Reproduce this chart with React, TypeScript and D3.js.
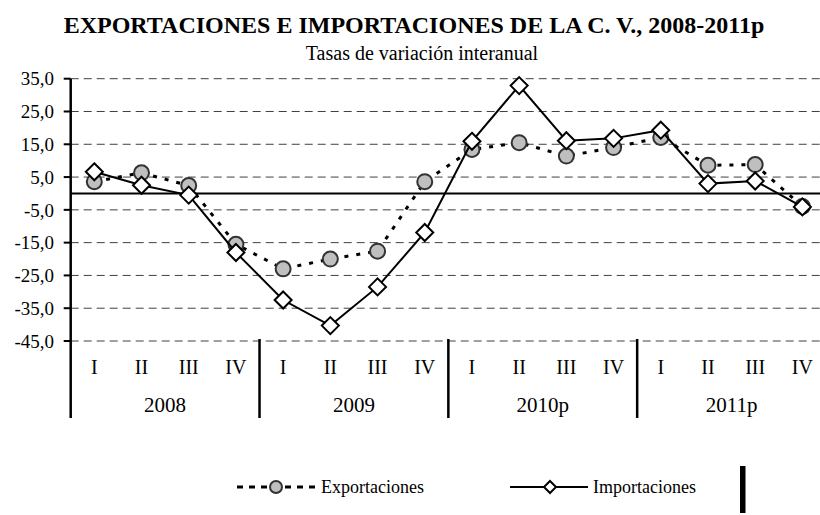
import * as d3 from "d3";
import React from "react";

const quarters = ["I", "II", "III", "IV"];
const years = ["2008", "2009", "2010p", "2011p"];
const exportaciones = [3.6, 6.3, 2.4, -15.5, -23.0, -20.0, -17.6, 3.6, 13.4, 15.5, 11.4, 14.0, 17.1, 8.6, 8.8, -4.0];
const importaciones = [6.6, 2.5, -0.5, -18.0, -32.5, -40.3, -28.5, -11.9, 15.9, 32.9, 16.1, 16.8, 19.3, 3.0, 3.8, -4.1];
const yTicks = [35, 25, 15, 5, -5, -15, -25, -35, -45];

const W = 820;
const H = 515;
const left = 70.7;
const right = 826;
const top = 78.7;
const bottom = 341;
const font = "Liberation Serif";

const fmt = (v: number) => v.toFixed(1).replace(".", ",");

export default function App() {
  const keys = years.flatMap((y) => quarters.map((q) => `${y}-${q}`));
  const x = d3.scaleBand<string>().domain(keys).range([left, right]);
  const y = d3.scaleLinear().domain([-45, 35]).range([bottom, top]);
  const cx = (i: number) => (x(keys[i]) as number) + x.bandwidth() / 2;

  const line = d3
    .line<number>()
    .x((d, i) => cx(i))
    .y((d) => y(d));

  const diamond = (px: number, py: number, r: number) =>
    `M${px},${py - r}L${px + r},${py}L${px},${py + r}L${px - r},${py}Z`;

  const yearW = x.bandwidth() * 4;

  return (
    <div style={{ position: "absolute", left: 0, top: 0 }}>
      <svg width={W} height={H} style={{ display: "block", background: "#fff", fontFamily: font }}>
        <text x={414} y={33} textAnchor="middle" fontWeight="bold" fontSize={24}>
          EXPORTACIONES E IMPORTACIONES DE LA C. V., 2008-2011p
        </text>
        <text x={422} y={60} textAnchor="middle" fontSize={20}>
          Tasas de variación interanual
        </text>

        {yTicks.map((t) => (
          <g key={t}>
            <line x1={left} x2={right} y1={y(t)} y2={y(t)} stroke="#404040" strokeWidth={1} strokeDasharray="8,5" />
            <line x1={left - 7} x2={left} y1={y(t)} y2={y(t)} stroke="#000" strokeWidth={2} />
            <text x={54} y={y(t)} dy="0.35em" textAnchor="end" fontSize={19}>
              {fmt(t)}
            </text>
          </g>
        ))}

        <line x1={left} x2={right} y1={y(0)} y2={y(0)} stroke="#000" strokeWidth={2} />
        <line x1={left} x2={left} y1={top} y2={418} stroke="#000" strokeWidth={2.5} />

        {years.map((yr, j) => {
          const x0 = x(keys[j * 4]) as number;
          return (
            <g key={yr}>
              {j > 0 && <line x1={x0} x2={x0} y1={bottom - 2} y2={418} stroke="#000" strokeWidth={2.5} />}
              <text x={x0 + yearW / 2} y={405} dy="0.35em" textAnchor="middle" fontSize={21}>
                {yr}
              </text>
            </g>
          );
        })}
        {keys.map((k, i) => (
          <text key={k} x={cx(i)} y={367} dy="0.35em" textAnchor="middle" fontSize={20}>
            {quarters[i % 4]}
          </text>
        ))}

        <path d={line(exportaciones) as string} fill="none" stroke="#000" strokeWidth={3} strokeDasharray="4,8" />
        {exportaciones.map((v, i) => (
          <circle key={i} cx={cx(i)} cy={y(v)} r={7.5} fill="#bfbfbf" stroke="#333" strokeWidth={2} />
        ))}
        <path d={line(importaciones) as string} fill="none" stroke="#000" strokeWidth={2} />
        {importaciones.map((v, i) => (
          <path key={i} d={diamond(cx(i), y(v), 8.5)} fill="#fff" stroke="#000" strokeWidth={2} />
        ))}

        <g>
          <line x1={237} x2={316} y1={487} y2={487} stroke="#000" strokeWidth={3} strokeDasharray="6,6" />
          <circle cx={276} cy={487} r={6} fill="#bfbfbf" stroke="#333" strokeWidth={2} />
          <text x={321} y={487} dy="0.35em" fontSize={18}>Exportaciones</text>
          <line x1={510} x2={588} y1={487} y2={487} stroke="#000" strokeWidth={2} />
          <path d={diamond(550, 487, 6)} fill="#fff" stroke="#000" strokeWidth={2} />
          <text x={593} y={487} dy="0.35em" fontSize={18}>Importaciones</text>
          <rect x={740} y={466} width={5.5} height={47} fill="#000" />
        </g>
      </svg>
    </div>
  );
}
